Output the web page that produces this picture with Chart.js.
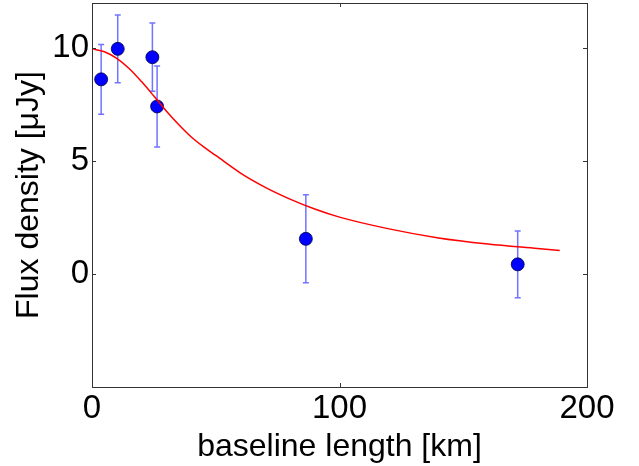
<!DOCTYPE html>
<html>
<head>
<meta charset="utf-8">
<script src="https://cdn.jsdelivr.net/npm/chart.js@4.4.0/dist/chart.umd.min.js"></script>
<style>
  html, body { margin: 0; padding: 0; background: #fff; }
</style>
</head>
<body>
<canvas id="chart" width="639" height="466"></canvas>
<script>
// measured points (baseline length vs flux density, with 1-sigma errors)
const baselineKm = [3.7, 10.4, 24.4, 26.3, 86.4, 172];
const fluxDensity = [8.62, 9.97, 9.6, 7.42, 1.56, 0.43];
const fluxError = [1.54, 1.5, 1.51, 1.79, 1.95, 1.48];

// model curve
const modelKm = [0, 5, 10, 15, 20, 25, 30, 35, 40, 45, 50, 60, 70, 80, 90, 100, 120, 140, 160, 180, 189];
const modelFlux = [9.97, 9.84, 9.55, 9.1, 8.52, 7.88, 7.22, 6.62, 6.08, 5.64, 5.25, 4.47, 3.84, 3.32, 2.88, 2.52, 2.0, 1.6, 1.33, 1.13, 1.04];

const xTicks = [0, 100, 200];
const yTicks = [0, 5, 10];

const FONT = "'Liberation Sans', Arial, Helvetica, sans-serif";

// error bars drawn under the markers
const errorBars = {
  id: 'errorBars',
  beforeDatasetsDraw(chart) {
    const { ctx, scales: { x, y } } = chart;
    ctx.save();
    ctx.strokeStyle = 'rgba(40,40,255,0.65)';
    ctx.lineWidth = 1.5;
    baselineKm.forEach((b, i) => {
      const px = x.getPixelForValue(b);
      const top = y.getPixelForValue(fluxDensity[i] + fluxError[i]);
      const bot = y.getPixelForValue(fluxDensity[i] - fluxError[i]);
      ctx.beginPath();
      ctx.moveTo(px, top); ctx.lineTo(px, bot);
      ctx.moveTo(px - 3, top); ctx.lineTo(px + 3, top);
      ctx.moveTo(px - 3, bot); ctx.lineTo(px + 3, bot);
      ctx.stroke();
    });
    ctx.restore();
  }
};

// box around the plot and small inward ticks
const frame = {
  id: 'frame',
  afterDraw(chart) {
    const { ctx, chartArea: a, scales: { x, y } } = chart;
    ctx.save();
    ctx.strokeStyle = '#333';
    ctx.lineWidth = 1;
    ctx.strokeRect(a.left + 0.5, a.top + 0.5, a.right - a.left, a.bottom - a.top);
    ctx.beginPath();
    xTicks.forEach(v => {
      const px = Math.round(x.getPixelForValue(v)) + 0.5;
      ctx.moveTo(px, a.bottom); ctx.lineTo(px, a.bottom - 4);
      ctx.moveTo(px, a.top); ctx.lineTo(px, a.top + 4);
    });
    yTicks.forEach(v => {
      const py = Math.round(y.getPixelForValue(v)) + 0.5;
      ctx.moveTo(a.left, py); ctx.lineTo(a.left + 4, py);
      ctx.moveTo(a.right, py); ctx.lineTo(a.right - 4, py);
    });
    ctx.stroke();
    ctx.restore();
  }
};

new Chart(document.getElementById('chart'), {
  type: 'scatter',
  data: {
    datasets: [
      {
        type: 'line',
        label: 'model',
        data: modelKm.map((b, i) => ({ x: b, y: modelFlux[i] })),
        borderColor: '#ff0000',
        borderWidth: 1.5,
        pointRadius: 0,
        fill: false,
        cubicInterpolationMode: 'monotone',
        order: 1
      },
      {
        label: 'data',
        data: baselineKm.map((b, i) => ({ x: b, y: fluxDensity[i] })),
        backgroundColor: '#0000ff',
        borderColor: '#000040',
        borderWidth: 0.8,
        pointRadius: 6.5,
        order: 2
      }
    ]
  },
  options: {
    responsive: false,
    animation: false,
    devicePixelRatio: 1,
    layout: { autoPadding: false, padding: { top: 3, right: 52, left: 0, bottom: 0 } },
    plugins: {
      legend: { display: false },
      tooltip: { enabled: false }
    },
    scales: {
      x: {
        type: 'linear',
        min: 0,
        max: 200,
        afterBuildTicks: s => { s.ticks = xTicks.map(v => ({ value: v })); },
        afterFit: s => { s.height = 79; s.paddingLeft = 0; s.paddingRight = 0; },
        grid: { display: false, drawTicks: false },
        border: { display: false },
        ticks: { color: '#000', padding: 2, font: { family: FONT, size: 33 } },
        title: {
          display: true,
          text: 'baseline length [km]',
          color: '#000',
          padding: { top: 0, bottom: 0 },
          font: { family: FONT, size: 32 }
        }
      },
      y: {
        type: 'linear',
        min: -5,
        max: 12,
        afterBuildTicks: s => { s.ticks = yTicks.map(v => ({ value: v })); },
        afterFit: s => { s.width = 92; s.paddingTop = 0; s.paddingBottom = 0; },
        grid: { display: false, drawTicks: false },
        border: { display: false },
        ticks: { color: '#000', padding: 3, font: { family: FONT, size: 33 } },
        title: {
          display: true,
          text: 'Flux density [μJy]',
          color: '#000',
          padding: { top: 10, bottom: 0 },
          font: { family: FONT, size: 32 }
        }
      }
    }
  },
  plugins: [errorBars, frame]
});
</script>
</body>
</html>
